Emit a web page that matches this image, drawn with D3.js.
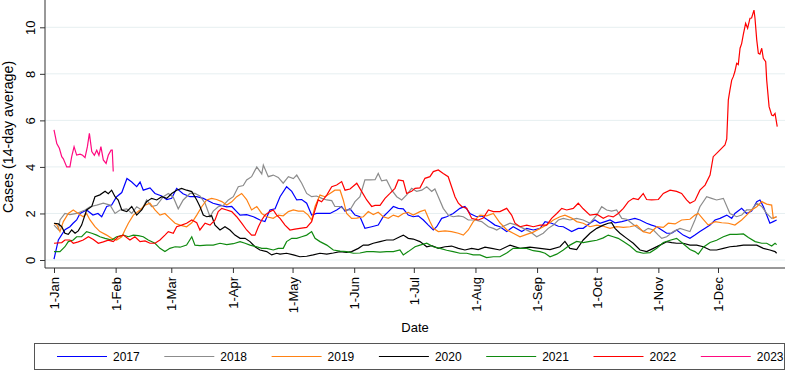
<!DOCTYPE html>
<html>
<head>
<meta charset="utf-8">
<script src="https://cdn.jsdelivr.net/npm/d3@7"></script>
<style>
body{margin:0;background:#fff}
svg{display:block;font-family:"Liberation Sans",Arial,sans-serif}
</style>
</head>
<body>
<svg width="787" height="371"></svg>
<script>
// day of year (0 = 1 Jan) and value
var d2017 = [0,2.2,5.5,8,9.6,11.4,13.1,16.4,19.6,22.1,24,26.5,29,31.5,34.1,36.7,39.1,41.6,43.3,44.9,48.3,50.8,54.2,56.7,59.2,61.7,64.9,68.4,71.8,75.1,76.8,80,83.5,86.9,89.4,91.9,93.6,96.9,100.3,103.6,106.1,108.6,111.2,113.7,117,119.6,122.1,124.6,127.1,129.6,132.1,135.5,138.8,142.2,144.7,146.4,148.9,151.4,153.9,156.4,159.8,163.1,165.6,168.2,170.7,173.2,175.7,178.2,180.7,183.2,185.8,188.3,190.8,192.5,195,197.5,200.8,204.2,206.7,209.2,212.6,215.1,219.3,221.8,224.3,227.7,231,235.3,237.8,241.1,244.5,247,250.3,253.7,256.2,260.4,263.7,266.2,269.6,272.1,274.6,277.2,279.7,282.2,285.6,288.9,292.2,294.8,298.1,300.6,303.2,305.7,308.2,310.7,313.2,316.5,319.9,322.4,324.9,327.5,330,332.5,335,338.4,340.9,342.5,345.9,348.4,350.9,353.5,355.1,356.8,358.5,360.1,361.8,363.5];
var v2017 = [0.04,0.86,1.3,1.43,1.58,1.72,2.0,2.15,1.93,2.0,1.86,2.3,2.36,2.72,2.9,3.5,3.35,3.15,3.35,3.0,3.1,2.86,2.75,2.6,2.65,3.08,2.85,2.72,2.72,2.65,2.58,2.44,2.36,2.28,2.3,2.08,1.93,1.95,1.86,1.72,1.65,2.15,2.2,2.72,3.15,2.95,2.58,2.6,2.44,1.93,2.0,2.0,2.0,2.15,2.3,2.1,2.2,1.93,1.86,1.36,1.43,1.5,1.86,2.08,2.3,2.22,2.2,1.93,1.86,1.9,1.72,1.5,1.29,1.43,1.79,1.86,2.0,2.22,2.3,2.0,1.86,1.9,1.65,1.5,1.43,1.22,1.43,1.22,1.36,1.29,1.36,1.65,1.58,1.45,1.43,1.22,1.36,1.36,1.58,1.72,1.58,1.65,1.72,1.6,1.65,1.72,1.79,1.72,1.58,1.5,1.43,1.29,1.15,1.15,1.29,1.07,0.93,1.07,1.22,1.36,1.5,1.72,1.79,1.93,1.79,2.0,2.22,2.0,2.1,2.51,2.58,2.3,1.93,1.58,1.65,1.72];

var d2018 = [0,2.2,3,5.5,8,11.4,15.6,18.1,21.5,24.8,28.2,30.7,33.2,36.6,39.1,41.6,44.1,46.6,49.1,51.7,55,57.5,60,62.5,65,68.4,70.9,73.4,76,78.5,80.1,82.6,85.2,87.7,90.2,92.7,95.2,96.9,99.4,102,104.5,105.3,107.8,110.3,112.8,115.3,117.9,120.4,122.1,124.6,127.1,129.6,132.1,134.7,137.2,139.7,141.3,143.9,146.4,148.9,151.4,153.9,156.4,158.9,161.5,163.1,164.8,167.3,169.9,172.4,174.9,177.4,179.9,182.4,185,187.5,190,191.6,193.3,195.8,198.3,200.8,203.4,205.9,208.4,211.8,215.1,218.5,221,222.7,226,229.4,232.7,236.1,239.4,242.8,246.1,248.6,251.2,253.7,256.2,259.5,262.9,266.2,269.6,273,275.5,278,280.5,283,285.6,288.1,290.6,293.9,296.4,298.9,301.5,304,305.7,308.2,311.5,314.9,317.4,319.9,322.4,324.9,328.3,330.8,333.3,336.7,340,343.4,345.9,348.4,350.9,353.5,356,358.5,361,363.5];
var v2018 = [1.5,1.3,1.72,2.0,1.95,2.0,2.15,2.29,2.36,2.44,2.36,2.0,2.15,2.2,2.0,2.29,2.15,2.58,2.3,2.35,2.72,2.86,2.7,2.2,2.58,2.86,2.86,2.75,2.44,1.86,2.1,2.29,2.35,2.58,2.72,3.15,3.2,3.44,3.58,4.0,3.7,4.08,3.58,3.65,3.55,3.3,3.58,3.5,3.65,3.3,2.86,2.72,2.75,2.65,2.58,2.55,2.3,2.3,2.15,2.15,2.51,2.72,3.44,3.44,3.45,3.72,3.4,3.44,3.0,2.72,2.58,2.8,3.08,2.95,3.0,3.15,2.95,3.05,2.72,2.22,1.93,1.86,1.9,1.86,1.72,1.72,1.65,1.43,1.36,1.29,1.45,1.58,1.5,1.36,1.22,1.0,1.15,1.36,1.5,1.72,1.79,1.72,1.79,1.72,1.58,1.93,2.29,2.15,2.1,2.15,1.79,1.75,1.58,1.36,1.22,1.36,1.29,1.07,0.93,1.0,1.22,1.36,1.29,1.22,1.72,2.29,2.72,2.65,2.58,2.65,2.0,1.86,1.93,2.15,2.15,2.44,2.3,2.0,1.79,1.86];

var d2019 = [0,1.5,3,4.7,7.2,9.7,12.2,14.7,16.4,18.1,20.6,23.1,26.5,29,31.5,34.1,35.7,37.4,39.9,43.3,45.8,48.3,50.8,53.3,55.8,58.3,60.9,63.4,66.7,69.3,71.8,74.3,76.8,79.3,81.8,84.4,86.9,89.4,91.9,94.4,96.9,99.4,102,104.5,107,110.3,112.8,115.3,117.9,120.4,122.9,125.4,127.9,129.6,131.3,133.8,136.3,138.8,141.3,143.9,145.5,147.2,149.7,152.3,155.6,158.1,160.6,163.1,165.6,168.2,170.7,173.2,175.7,178.2,180.7,184.1,186.6,189.1,190.8,193.3,196.7,200,203.4,205.9,208.4,210.9,214.3,217.6,221,224.3,227.7,231,234.4,237.8,241.1,244.5,247.8,251.2,254.5,257,260.4,262.9,266.2,269.6,273,276.3,279.7,283,286.4,289.8,293.1,296.4,299.8,303.2,306.5,309,312.4,315.7,319.9,322.4,324.1,326.6,329.1,332.5,335.9,339.2,342.5,345.9,348.4,350.9,353.5,356,358.5,361,361.8,363.5];
var v2019 = [1.58,1.5,1.22,1.65,2.0,2.15,2.0,1.86,2.0,1.72,1.43,1.22,1.07,0.93,0.86,1.0,1.29,1.58,1.93,2.15,2.36,2.44,2.15,1.93,2.0,1.79,1.58,1.5,1.43,1.6,1.93,2.29,2.58,2.65,2.6,2.51,2.36,2.5,2.72,2.86,2.6,2.15,2.3,2.0,1.86,1.79,1.93,1.9,2.08,2.15,2.1,2.1,1.93,1.72,2.3,2.79,2.72,2.86,3.0,3.0,2.58,2.0,1.79,1.8,1.86,2.08,1.95,2.05,1.86,1.79,1.93,1.86,2.0,2.05,1.93,2.08,2.15,1.65,1.36,1.22,1.25,1.22,1.15,1.07,1.29,1.65,1.93,1.9,2.0,1.6,1.3,1.15,1.0,1.1,1.2,1.36,1.5,1.72,1.86,1.93,1.8,1.65,1.58,1.43,1.5,1.45,1.36,1.43,1.4,1.43,1.5,1.22,1.15,1.43,1.4,1.58,1.55,1.72,1.75,1.93,2.0,1.75,1.5,1.65,1.6,1.58,1.5,1.72,1.93,2.15,2.29,2.51,2.4,2.36,1.79,1.86];

var d2020 = [0,2.2,3.9,5.5,7.2,8.9,10.6,12.2,13.9,16.4,19,20.6,23.1,25.7,27.3,29,30.7,32.3,34.1,36.6,39.1,41.6,44.1,46.6,49.1,51.7,54.2,56.7,59.2,61.7,64.2,66.7,69.3,71.8,73.4,75.1,76.8,79.3,81,83.5,86,88.5,91,93.6,96.1,98.6,101.1,103.6,107,109.5,112,113.7,117,120.4,123.7,127.1,130.4,133.8,137.2,140.5,143.9,147.2,149.7,153.1,155.6,158.1,160.6,164,167.3,170.7,174,175.7,178.2,180.7,184.1,187.5,190,193.3,196.7,200,203.4,206.7,210.1,213.4,216.8,220.2,224.3,229.4,234.4,239.4,244.5,249.5,254.5,257,259.5,262.9,266.2,269.6,273,276.3,278.8,280.5,282.2,284.7,288.1,291.4,294.8,298.1,301.5,304.8,308.2,310.7,313.2,316.5,319.9,323.3,326.6,330,333.3,336.7,340,343.4,346.8,350.1,353.5,356.8,360.1,362.7,363.5];
var v2020 = [1.58,1.55,1.43,1.15,1.1,1.29,1.15,1.25,1.5,2.15,2.3,2.72,2.8,2.95,2.85,3.0,2.72,2.58,2.15,2.08,2.3,1.93,2.15,2.51,2.65,2.58,2.72,2.65,2.86,3.0,3.08,3.0,2.94,2.58,2.3,1.93,1.86,1.9,1.5,1.29,1.43,1.29,1.07,0.93,0.93,0.79,0.57,0.43,0.36,0.22,0.29,0.25,0.29,0.22,0.14,0.16,0.22,0.29,0.25,0.3,0.36,0.33,0.36,0.5,0.64,0.64,0.72,0.79,0.86,0.86,1.0,1.07,0.93,0.9,0.79,0.57,0.62,0.5,0.57,0.6,0.5,0.43,0.5,0.45,0.55,0.5,0.43,0.64,0.5,0.55,0.5,0.45,0.57,0.8,0.5,0.45,0.86,1.15,1.36,1.5,1.58,1.6,1.36,1.15,0.93,0.72,0.43,0.36,0.5,0.64,0.79,0.75,0.72,0.72,0.64,0.64,0.57,0.43,0.43,0.5,0.57,0.6,0.64,0.64,0.64,0.5,0.43,0.36,0.29];

var d2021 = [0,3,5.5,7.2,9.7,11.4,13.9,16.4,19,21.5,23.1,25.7,29,31.5,34.9,37.4,39.9,42.4,44.9,47.4,50.8,53.3,55.8,58.3,60.9,63.4,66.7,69.3,70.9,73.4,76.8,80.1,83.5,86.9,90.2,93.6,96.1,98.6,102,104.5,107,110.3,112.8,115.3,117,119.6,122.1,124.6,127.1,129.6,131.3,133.8,137.2,140.5,143.9,147.2,150.6,153.9,157.3,160.6,164,167.3,170.7,174,175.7,178.2,181.6,184.1,187.5,190.8,194.2,197.5,200.8,204.2,207.6,210.9,214.3,217.6,221,224.3,227.7,231,234.4,237.8,241.1,244.5,247,249.5,252.9,256.2,259.5,262.9,266.2,269.6,273,276.3,278.8,281.3,283.8,286.4,289.8,293.1,296.4,299.8,303.2,306.5,309.9,313.2,316.5,319.9,322.4,324.1,326.6,330,333.3,336.7,340,343.4,346.8,349.3,352.7,356,358.5,361,362.7,363.5];
var v2021 = [0.36,0.36,0.57,0.79,0.86,1.0,1.0,1.22,1.15,1.07,1.0,0.93,0.86,1.0,1.07,1.0,1.07,1.05,1.0,0.86,0.72,0.5,0.36,0.5,0.57,0.55,0.64,1.0,0.64,0.62,0.64,0.64,0.72,0.66,0.7,0.79,0.72,0.64,0.57,0.5,0.5,0.43,0.5,0.5,0.79,0.93,0.93,1.0,1.07,1.22,0.93,0.79,0.64,0.43,0.38,0.36,0.29,0.3,0.36,0.36,0.34,0.36,0.36,0.43,0.22,0.36,0.57,0.64,0.72,0.57,0.5,0.42,0.36,0.29,0.29,0.22,0.22,0.1,0.14,0.14,0.3,0.5,0.5,0.5,0.4,0.36,0.29,0.14,0.25,0.43,0.64,0.8,0.75,0.8,0.85,0.95,1.07,1.0,0.93,0.79,0.6,0.36,0.29,0.32,0.5,0.75,0.85,0.93,0.7,0.45,0.36,0.25,0.55,0.75,0.85,1.0,1.1,1.1,1.12,0.97,0.79,0.72,0.72,0.6,0.72,0.66];

var d2022 = [0,3.9,5.5,8,9.7,12.2,14.7,17.3,19.8,22.3,24.8,27.3,29.8,32.3,34.9,38.2,40.7,43.3,45.8,48.3,50.8,53.3,55.8,57.5,60,61.7,64.2,66.7,69.3,71.8,73.4,76,78.5,81,82.6,84.4,86.9,89.4,91.9,94.4,96.9,99.4,101.1,102.8,104.5,106.1,108.6,110.3,112,113.7,116.2,118.7,121.2,123.7,127.1,129.6,131.3,132.9,134.6,137.2,139.7,142.2,144.7,146.4,148.9,152.3,154.8,157.3,159.8,161.5,164,166.5,169,171.5,173.2,175.7,177.4,179.9,181.6,184.1,186.6,189.1,190.8,193.3,195.8,198.3,200,201.7,203.4,205.1,207.6,210.1,213.4,215.9,218.5,221,224.3,227.7,230.2,231.9,234.4,237.8,241.1,244.5,247.8,250.3,252.9,255.4,257.9,261.2,263.7,266.2,269.6,273,276.3,278.8,281.3,283.8,286.4,288.9,291.4,293.9,296.4,298.1,300.6,304,306.5,309.9,313.2,315.7,318.2,319.9,322.4,324.9,327.5,330,331.6,333.3,335.8,337.5,338.4,339.2,340,340.9,341.7,342.5,343.4,344.2,345.1,345.9,346.7,347.9,348.9,350.1,350.9,352.1,352.6,353.5,354.3,355.1,356,356.8,358,358.5,359.7,361,361.8,362.7,363.8];
var v2022 = [0.72,0.75,0.86,0.86,0.72,0.78,0.86,1.0,0.88,0.72,0.78,0.85,0.79,1.0,1.07,0.86,1.0,0.79,0.82,0.72,0.72,0.86,1.07,1.22,1.15,1.43,1.5,1.58,1.72,1.6,1.29,1.58,1.5,1.72,2.08,2.22,2.15,2.08,1.86,1.58,1.29,1.07,1.07,1.43,1.72,1.93,2.08,2.15,1.93,1.79,1.5,1.29,1.33,1.36,1.4,1.65,2.15,2.58,2.5,2.79,3.15,3.22,3.37,3.0,3.05,3.3,2.94,2.58,2.3,2.35,2.35,2.65,2.86,3.08,3.44,3.4,2.86,2.95,3.08,3.1,3.51,3.58,3.8,3.87,3.72,3.58,3.15,2.72,2.44,2.3,2.22,1.79,1.72,1.8,2.15,2.08,2.08,2.22,1.93,1.58,1.43,1.5,1.43,1.5,1.5,1.79,2.0,2.22,2.15,2.22,2.44,2.2,1.93,1.97,1.79,1.9,1.85,2.0,2.22,2.51,2.65,2.6,2.86,2.6,2.58,2.6,2.86,3.0,2.95,2.86,2.58,2.44,2.55,3.0,3.22,3.65,4.44,4.58,4.8,4.94,5.2,6.88,7.3,7.73,7.88,8.1,8.45,8.4,9.1,9.3,9.67,10.17,9.96,10.39,10.4,10.74,10.4,9.45,8.88,8.85,9.1,8.67,8.52,7.73,6.59,6.23,6.2,6.3,5.73];

var d2023 = [0,1.4,2.7,3.9,4.7,6.4,8,8.9,10.1,11.4,13.1,14.4,15.6,16.8,17.8,19,20.3,21.5,22.6,23.6,24.8,26.2,27.3,28.7,29.3,29.8];
var v2023 = [5.59,5.0,4.8,4.44,4.35,4.0,4.0,4.44,4.87,4.51,4.55,4.5,4.4,4.87,5.44,4.66,4.5,4.72,4.5,4.87,4.3,4.15,4.5,4.72,4.72,3.8];

var years = ['2017','2018','2019','2020','2021','2022','2023'];
var colors = ['#0000ff','#8c8c8c','#ff8214','#000000','#108a10','#ff0000','#ff0a80'];
var yTicks = [0,2,4,6,8,10];
var monthDays = [0,31,59,90,120,151,181,212,243,273,304,334];
var monthLabels = ['1-Jan','1-Feb','1-Mar','1-Apr','1-May','1-Jun','1-Jul','1-Aug','1-Sep','1-Oct','1-Nov','1-Dec'];

var seriesDays = [d2017, d2018, d2019, d2020, d2021, d2022, d2023];
var seriesVals = [v2017, v2018, v2019, v2020, v2021, v2022, v2023];

var svg = d3.select('svg');
var x = d3.scaleLinear().domain([0, 364]).range([54, 54 + 364 * 1.988]);
var y = d3.scaleLinear().domain([0, 10]).range([260, 27.3]);

// grid
svg.append('g').selectAll('line').data(yTicks).enter().append('line')
  .attr('x1', 45).attr('x2', 785)
  .attr('y1', d => y(d)).attr('y2', d => y(d))
  .attr('stroke', '#e6eff1').attr('stroke-width', 1);

// lines
var line = d3.line().x(d => x(d[0])).y(d => y(d[1]));
years.forEach(function(yr, i){
  var pts = seriesVals[i].map((v, j) => [seriesDays[i][j], v]);
  svg.append('path').datum(pts)
    .attr('fill', 'none')
    .attr('stroke', colors[i])
    .attr('stroke-width', 1.2)
    .attr('d', line);
});

// axes
var xg = svg.append('g').attr('transform', 'translate(0,268)')
  .call(d3.axisBottom(x).tickValues(monthDays).tickFormat((d, i) => monthLabels[i]).tickSize(5));
xg.select('.domain').remove();
xg.selectAll('.tick line').attr('stroke', '#333');
xg.selectAll('.tick text')
  .attr('transform', 'rotate(-90)')
  .attr('x', -9).attr('y', 0).attr('dy', '0.35em')
  .attr('text-anchor', 'end')
  .attr('font-size', 13).attr('font-family', null).attr('fill', '#000');

var yg = svg.append('g').attr('transform', 'translate(45,0)')
  .call(d3.axisLeft(y).tickValues(yTicks).tickSize(5));
yg.select('.domain').remove();
yg.selectAll('.tick line').attr('stroke', '#333');
yg.selectAll('.tick text')
  .attr('transform', 'rotate(-90)')
  .attr('x', 0).attr('y', -10).attr('dy', 0)
  .attr('text-anchor', 'middle')
  .attr('font-size', 13).attr('font-family', null).attr('fill', '#000');

svg.append('line').attr('x1', 45).attr('x2', 45).attr('y1', 0).attr('y2', 268).attr('stroke', '#333');
svg.append('line').attr('x1', 45).attr('x2', 785).attr('y1', 268).attr('y2', 268).attr('stroke', '#333');

// titles
svg.append('text').attr('x', 415).attr('y', 332).attr('text-anchor', 'middle')
  .attr('font-size', 13).text('Date');
svg.append('text').attr('transform', 'translate(13,137) rotate(-90)').attr('text-anchor', 'middle')
  .attr('font-size', 14.2).text('Cases (14-day average)');

// legend
svg.append('rect').attr('x', 34.5).attr('y', 343.5).attr('width', 750).attr('height', 26)
  .attr('fill', 'none').attr('stroke', '#555');
var lg = svg.append('g').selectAll('g').data(years).enter().append('g')
  .attr('transform', (d, i) => 'translate(' + (57 + i * 107.3) + ',356.5)');
lg.append('line').attr('x1', 0).attr('x2', 50).attr('stroke', (d, i) => colors[i]).attr('stroke-width', 1.2);
lg.append('text').attr('x', 56).attr('dy', '0.35em').attr('font-size', 12).text(d => d);
</script>
</body>
</html>
